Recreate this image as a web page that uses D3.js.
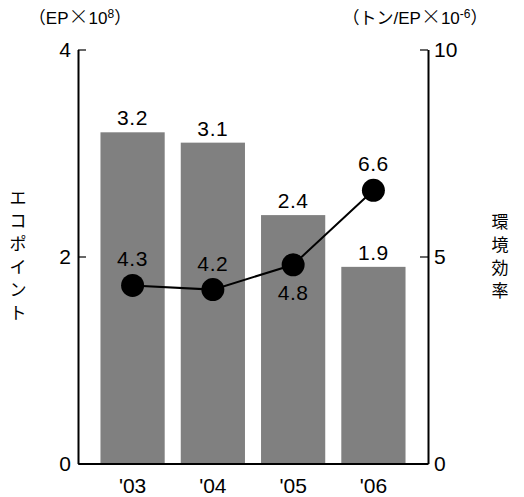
<!DOCTYPE html>
<html>
<head>
<meta charset="utf-8">
<script src="https://cdn.jsdelivr.net/npm/d3@7"></script>
<style>
  html, body { margin: 0; padding: 0; background: #fff; }
  svg { display: block; }
  text { font-family: "Liberation Sans", Arial, sans-serif; fill: #000; }
  .jp { font-family: "Noto Sans CJK JP", sans-serif; }
</style>
</head>
<body>
<svg id="chart" width="524" height="497"></svg>
<script>
// Eco-points (bars, left axis) and environmental efficiency (line, right axis)
const years = ["'03", "'04", "'05", "'06"];
const ecoPoints = [3.2, 3.1, 2.4, 1.9];
const efficiency = [4.3, 4.2, 4.8, 6.6];
const leftTicks = [0, 2, 4];
const rightTicks = [0, 5, 10];
const efficiencyLabelBelow = [false, false, true, false];

const svg = d3.select("#chart");
const plotLeft = 78, plotRight = 428, plotTop = 49.5, plotBottom = 463.5;

const x = d3.scaleBand().domain(years).range([plotLeft, plotRight])
  .paddingInner(0.2).paddingOuter(0.28);
const yL = d3.scaleLinear().domain([0, 4]).range([plotBottom, plotTop]);
const yR = d3.scaleLinear().domain([0, 10]).range([plotBottom, plotTop]);

// bars
svg.append("g").selectAll("rect").data(ecoPoints).join("rect")
  .attr("x", (d, i) => x(years[i]))
  .attr("y", d => yL(d))
  .attr("width", x.bandwidth())
  .attr("height", d => yL(0) - yL(d))
  .attr("fill", "#808080");

svg.append("g").selectAll("text").data(ecoPoints).join("text")
  .attr("x", (d, i) => x(years[i]) + x.bandwidth() / 2)
  .attr("y", d => yL(d) - 7)
  .attr("text-anchor", "middle")
  .attr("font-size", 21)
  .attr("letter-spacing", 0.6)
  .text(d => d.toFixed(1));

// axes
const styleAxis = size => g => {
  g.selectAll("path.domain").attr("stroke", "#000").attr("stroke-width", 2);
  g.selectAll(".tick line").attr("stroke", "#000").attr("stroke-width", 1.2);
  g.selectAll(".tick text").attr("font-size", size)
    .attr("font-family", "'Liberation Sans', Arial, sans-serif").attr("fill", "#000");
};

svg.append("g").attr("transform", `translate(${plotLeft},0)`)
  .call(d3.axisLeft(yL).tickValues(leftTicks).tickFormat(d3.format("d"))
    .tickSize(-8).tickSizeOuter(0).tickPadding(7))
  .call(styleAxis(21));

svg.append("g").attr("transform", `translate(${plotRight},0)`)
  .call(d3.axisRight(yR).tickValues(rightTicks).tickFormat(d3.format("d"))
    .tickSize(-8).tickSizeOuter(0).tickPadding(6))
  .call(styleAxis(21));

svg.append("g").attr("transform", `translate(0,${plotBottom})`)
  .call(d3.axisBottom(x).tickSize(0).tickPadding(15))
  .call(styleAxis(21));

// efficiency line
const cx = (d, i) => x(years[i]) + x.bandwidth() / 2;
const line = d3.line().x((d, i) => cx(d, i)).y(d => yR(d));
svg.append("path").datum(efficiency)
  .attr("d", line).attr("fill", "none")
  .attr("stroke", "#000").attr("stroke-width", 2);

svg.append("g").selectAll("circle").data(efficiency).join("circle")
  .attr("cx", cx).attr("cy", d => yR(d)).attr("r", 11.5).attr("fill", "#000");

svg.append("g").selectAll("text").data(efficiency).join("text")
  .attr("x", cx)
  .attr("y", (d, i) => efficiencyLabelBelow[i] ? yR(d) + 35 : yR(d) - 19)
  .attr("text-anchor", "middle")
  .attr("font-size", 21)
  .attr("letter-spacing", 0.6)
  .text(d => d.toFixed(1));

// unit captions
function unitCaption(cxPos, prefixJp, prefix, power) {
  const t = svg.append("text").attr("x", cxPos).attr("y", 24)
    .attr("text-anchor", "middle").attr("font-size", 17);
  t.append("tspan").attr("class", "jp").text("（" + prefixJp);
  t.append("tspan").text(prefix);
  t.append("tspan").attr("class", "jp").attr("font-size", 20).attr("font-weight", 300).text("×");
  t.append("tspan").text("10");
  t.append("tspan").attr("font-size", 12).attr("dy", -6).text(power);
  t.append("tspan").attr("class", "jp").attr("dy", 6).text("）");
}
unitCaption(80, "", "EP", "8");
unitCaption(415, "トン", "/EP", "-6");

// vertical axis titles, one glyph per line
function verticalTitle(str, cxPos, cyPos, step) {
  const chars = Array.from(str);
  const start = cyPos - (chars.length - 1) * step / 2;
  svg.append("g").selectAll("text").data(chars).join("text")
    .attr("class", "jp")
    .attr("x", cxPos)
    .attr("y", (d, i) => start + i * step)
    .attr("dy", "0.35em")
    .attr("text-anchor", "middle")
    .attr("font-size", 17)
    .text(d => d);
}
verticalTitle("エコポイント", 18, 256, 23);
verticalTitle("環境効率", 500, 256.5, 23);
</script>
</body>
</html>
